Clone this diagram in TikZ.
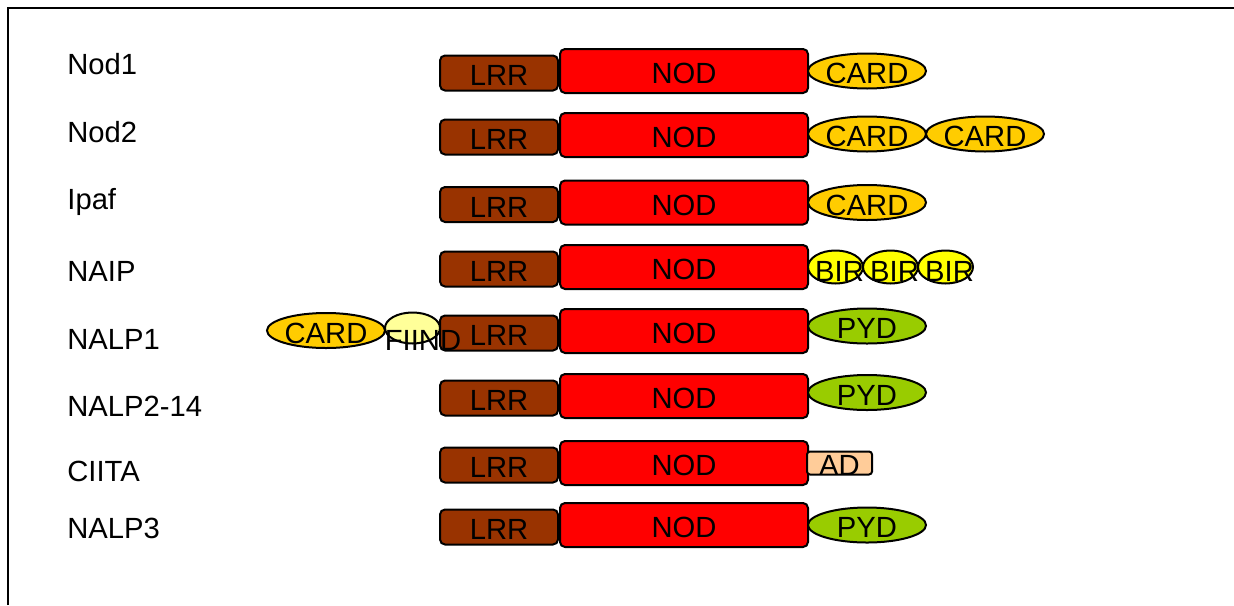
\documentclass[tikz,border=0pt]{standalone}
\usepackage{fontspec}
\setmainfont{Liberation Sans}
\usetikzlibrary{positioning,shapes.geometric}
\definecolor{lrrbrown}{HTML}{993300}
\definecolor{nodred}{HTML}{FF0000}
\definecolor{cardorange}{HTML}{FFCC00}
\definecolor{biryellow}{HTML}{FFFF00}
\definecolor{fiindyellow}{HTML}{FFFF99}
\definecolor{pydgreen}{HTML}{99CC00}
\definecolor{adpeach}{HTML}{FFCC99}
\tikzset{
  dom/.style={draw, line width=1pt, inner sep=0pt, outer sep=0pt},
  box/.style={dom, rectangle, rounded corners=2.5pt},
  oval/.style={dom, ellipse},
  lrr/.style={box, fill=lrrbrown, minimum width=59pt, minimum height=17.5pt},
  nod/.style={box, fill=nodred, minimum width=124pt, minimum height=22pt},
  card/.style={oval, fill=cardorange, minimum width=59pt, minimum height=17.5pt},
  bir/.style={oval, fill=biryellow, minimum width=27.5pt, minimum height=16.5pt},
  fiind/.style={oval, fill=fiindyellow, minimum width=27.5pt, minimum height=15.5pt},
  pyd/.style={oval, fill=pydgreen, minimum width=59pt, minimum height=17.5pt},
  ad/.style={box, fill=adpeach, rounded corners=1.5pt, minimum width=32.5pt, minimum height=11.5pt},
  every label/.style={inner sep=0pt, text height=12.5pt, text depth=0pt},
  protname/.style={anchor=base west, inner sep=0pt}
}
\begin{document}
\begin{tikzpicture}[x=0.5pt, y=-0.5pt, font=\fontsize{14.6}{17.5}\selectfont]
  \useasboundingbox (0,0) rectangle (1234,605);
  \draw[line width=1.2pt] (8,605) -- (8,8) -- (1234,8);
  % name, NOD and LRR of every protein
  \foreach \prot/\ly/\y [count=\i] in {Nod1/74/71, Nod2/142/135, Ipaf/209/202.5, NAIP/281/267,
      NALP1/349/331, NALP2-14/416/396, CIITA/481/463, NALP3/538/525}{
    \node[protname] (name\i) at (67,\ly) {\prot};
    \node[nod, label=center:NOD] (nod\i) at (684,\y) {};
    \node[lrr, label=center:LRR, left=1pt of nod\i, yshift=-1pt] (lrr\i) {};
  }
  % Nod1, Nod2, Ipaf
  \node[card, label=center:CARD, right=0pt of nod1] (card1) {};
  \node[card, label=center:CARD, right=0pt of nod2, yshift=0.5pt] (card2a) {};
  \node[card, label=center:CARD, right=0pt of card2a] (card2b) {};
  \node[card, label=center:CARD, right=0pt of nod3] (card3) {};
  % NAIP
  \node[bir, label={[xshift=2pt,yshift=-0.75pt]center:BIR}, right=0pt of nod4] (bir1) {};
  \node[bir, label={[xshift=2pt,yshift=-0.75pt]center:BIR}, right=0pt of bir1] (bir2) {};
  \node[bir, label={[xshift=2pt,yshift=-0.75pt]center:BIR}, right=0pt of bir2] (bir3) {};
  % NALP1
  \node[pyd, label=center:PYD, right=0pt of nod5, yshift=2.5pt] (pyd5) {};
  \node[fiind, label={[xshift=5.25pt,yshift=-5pt]center:FIIND}, left=0pt of lrr5, yshift=2.5pt] (fiind5) {};
  \node[card, label=center:CARD, left=0pt of fiind5, yshift=-1.25pt] (card5) {};
  % NALP2-14
  \node[pyd, label=center:PYD, right=0pt of nod6, yshift=1.75pt] (pyd6) {};
  % CIITA
  \node[ad, label=center:AD, right=-0.5pt of nod7] (ad7) {};
  % NALP3
  \node[pyd, label=center:PYD, right=0pt of nod8] (pyd8) {};
\end{tikzpicture}
\end{document}
